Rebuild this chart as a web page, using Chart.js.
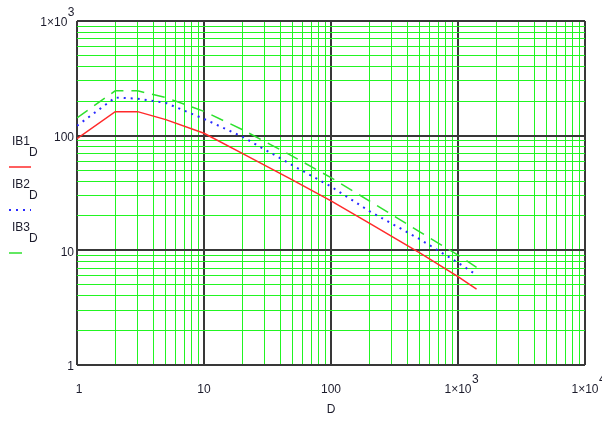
<!DOCTYPE html>
<html>
<head>
<meta charset="utf-8">
<script src="https://cdn.jsdelivr.net/npm/chart.js@4"></script>
<style>
  html, body { margin: 0; padding: 0; background: #fff; }
  canvas { display: block; }
</style>
</head>
<body>
<canvas id="chart" width="602" height="424"></canvas>
<script>
// values
const dValues = [1, 2, 3, 5, 10, 20, 50, 100, 200, 500, 1000, 1400];
const ib1 = [94, 162, 162, 138, 105, 70, 41, 27, 17.3, 9.5, 5.9, 4.6];
const ib2 = [122, 215, 210, 193, 140, 98, 55, 36, 22, 12.5, 7.8, 6.1];
const ib3 = [143, 246, 246, 215, 163, 113, 66, 43, 27, 14.5, 9.1, 7.1];

const seriesNames = ['IB1', 'IB2', 'IB3'];
const seriesSub = 'D';
const xTitle = 'D';

// tick labels: [mantissa text, exponent]
const xTicks = [1, 10, 100, 1000, 10000];
const xTickLabels = [['1', ''], ['10', ''], ['100', ''], ['1\u00d710', '3'], ['1\u00d710', '4']];
const yTicks = [1, 10, 100, 1000];
const yTickLabels = [['1', ''], ['10', ''], ['100', ''], ['1\u00d710', '3']];

const logGrid = (lo, hi) => {
    const out = [];
    for (let d = lo; d < hi; d *= 10) {
        for (let k = 1; k < 10; k++) out.push(d * k);
    }
    out.push(hi);
    return out;
};
const isDecade = (v) => Math.abs(Math.log10(v) - Math.round(Math.log10(v))) < 1e-9;

const toPoints = (ys) => dValues.map((x, i) => ({ x, y: ys[i] }));

const gridOpts = {
    drawTicks: false,
    color: (c) => (c.tick && isDecade(c.tick.value)) ? '#383838' : '#22f522',
    lineWidth: (c) => (c.tick && isDecade(c.tick.value)) ? 2 : 1
};

const FONT = '12px "Liberation Sans", Arial, sans-serif';
const TEXT = '#1c1c2c';

const drawSup = (ctx, main, exp, x, y, align) => {
    ctx.font = FONT;
    const w = ctx.measureText(main).width;
    let left = align === 'right' ? x - w - (exp ? ctx.measureText(exp).width : 0) : x - w / 2;
    ctx.textAlign = 'left';
    ctx.textBaseline = 'middle';
    ctx.fillText(main, left, y);
    if (exp) ctx.fillText(exp, left + w + 0.5, y - 10);
};

const labelsPlugin = {
    id: 'labels',
    afterDraw(chart) {
        const { ctx, scales: { x, y } } = chart;
        ctx.save();
        ctx.fillStyle = TEXT;
        yTicks.forEach((v, i) => {
            const [m, e] = yTickLabels[i];
            drawSup(ctx, m, e, 74, y.getPixelForValue(v) + 2, 'right');
        });
        xTicks.forEach((v, i) => {
            const [m, e] = xTickLabels[i];
            drawSup(ctx, m, e, x.getPixelForValue(v) + (i === 0 ? 2 : 0), 390, 'center');
        });
        ctx.font = FONT;
        ctx.textAlign = 'center';
        ctx.textBaseline = 'middle';
        ctx.fillText(xTitle, 331, 410);

        // legend on the left
        const rows = [142, 185, 228];
        chart.data.datasets.forEach((ds, i) => {
            const top = rows[i];
            ctx.fillStyle = TEXT;
            ctx.textAlign = 'left';
            ctx.textBaseline = 'middle';
            ctx.fillText(seriesNames[i], 12, top);
            ctx.fillText(seriesSub, 29, top + 11);
            ctx.strokeStyle = ds.borderColor;
            ctx.lineWidth = ds.borderWidth;
            ctx.setLineDash(ds.borderDash || []);
            ctx.beginPath();
            ctx.moveTo(9, top + 25);
            ctx.lineTo(i === 2 ? 28 : 31, top + 25);
            ctx.stroke();
        });
        ctx.restore();
    }
};

new Chart(document.getElementById('chart'), {
    type: 'line',
    data: {
        datasets: [
            { label: 'IB1', data: toPoints(ib1), borderColor: '#ff2a2a', borderWidth: 1.5 },
            { label: 'IB2', data: toPoints(ib2), borderColor: '#2a2aff', borderWidth: 2, borderDash: [2, 5] },
            { label: 'IB3', data: toPoints(ib3), borderColor: '#2ee02e', borderWidth: 1.5, borderDash: [13, 8] }
        ]
    },
    options: {
        responsive: false,
        animation: false,
        layout: { padding: { left: 0, right: 17, top: 21, bottom: 0 } },
        elements: { point: { radius: 0 }, line: { tension: 0 } },
        plugins: { legend: { display: false }, tooltip: { enabled: false } },
        scales: {
            x: {
                type: 'logarithmic', min: 1, max: 10000,
                afterBuildTicks: (s) => { s.ticks = logGrid(1, 10000).map(v => ({ value: v })); },
                afterFit: (s) => { s.height = 59; },
                ticks: { display: false },
                border: { display: false },
                grid: gridOpts
            },
            y: {
                type: 'logarithmic', min: 1, max: 1000,
                afterBuildTicks: (s) => { s.ticks = logGrid(1, 1000).map(v => ({ value: v })); },
                afterFit: (s) => { s.width = 77; },
                ticks: { display: false },
                border: { display: false },
                grid: gridOpts
            }
        }
    },
    plugins: [labelsPlugin]
});
</script>
</body>
</html>
